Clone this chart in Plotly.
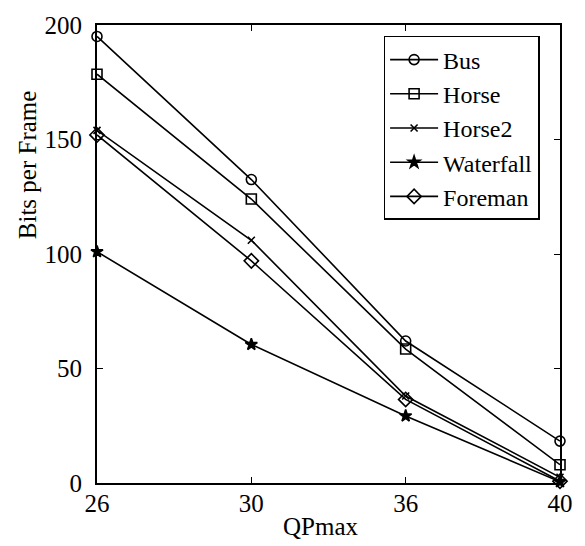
import plotly.graph_objects as go

qp = ["26", "30", "36", "40"]
bus = [195, 132.5, 62, 18.3]
horse = [178.5, 124, 58.5, 8]
horse2 = [154, 106, 38, 2.5]
waterfall = [101, 60.5, 29.3, 0.5]
foreman = [152, 97, 36.5, 0.8]

series = [
    ("Bus", bus, dict(symbol="circle-open", size=10)),
    ("Horse", horse, dict(symbol="square-open", size=10)),
    ("Horse2", horse2, dict(symbol="x-thin-open", size=7)),
    ("Waterfall", waterfall, dict(symbol="star", size=9)),
    ("Foreman", foreman, dict(symbol="diamond-open", size=11)),
]

FONT = "Liberation Serif, Times New Roman, serif"
FS = 25

fig = go.Figure()
for name, vals, mk in series:
    fig.add_trace(go.Scatter(
        x=qp, y=vals, name=name, mode="lines+markers",
        line=dict(color="black", width=1.6),
        marker=dict(color="black", line=dict(color="black", width=1.6), **mk),
        cliponaxis=False,
    ))

fig.update_layout(
    width=585, height=546,
    margin=dict(l=97, r=21, t=21, b=63),
    paper_bgcolor="white", plot_bgcolor="white",
    font=dict(family=FONT, size=FS, color="black"),
    showlegend=True,
    legend=dict(
        x=0.619, y=0.976, xanchor="left", yanchor="top",
        bordercolor="black", borderwidth=1.5, bgcolor="white",
        font=dict(family=FONT, size=24),
        tracegroupgap=0, itemwidth=48,
    ),
    xaxis=dict(
        type="category", range=[0, 3],
        showline=True, linecolor="black", linewidth=2, mirror="ticks",
        ticks="inside", ticklen=6, tickcolor="black", tickwidth=1,
        showgrid=False, zeroline=False,
        tickfont=dict(family=FONT, size=FS),
        ticklabelstandoff=-3,
    ),
    yaxis=dict(
        range=[0, 200], tickvals=[0, 50, 100, 150, 200],
        showline=True, linecolor="black", linewidth=2, mirror="ticks",
        ticks="inside", ticklen=6, tickcolor="black", tickwidth=1,
        showgrid=False, zeroline=False,
        tickfont=dict(family=FONT, size=FS),
        ticklabelstandoff=8,
    ),
    annotations=[
        dict(text="Bits per Frame", xref="paper", yref="paper",
             x=-0.15, y=0.695, textangle=-90, showarrow=False,
             xanchor="center", yanchor="middle",
             font=dict(family=FONT, size=FS)),
        dict(text="QPmax", xref="paper", yref="paper",
             x=0.484, y=-0.095, showarrow=False,
             xanchor="center", yanchor="middle",
             font=dict(family=FONT, size=FS)),
    ],
)

fig.write_html(
    "out.html",
    config={"displayModeBar": False},
    post_script="document.body.style.margin='0';document.body.style.overflow='hidden';",
)
